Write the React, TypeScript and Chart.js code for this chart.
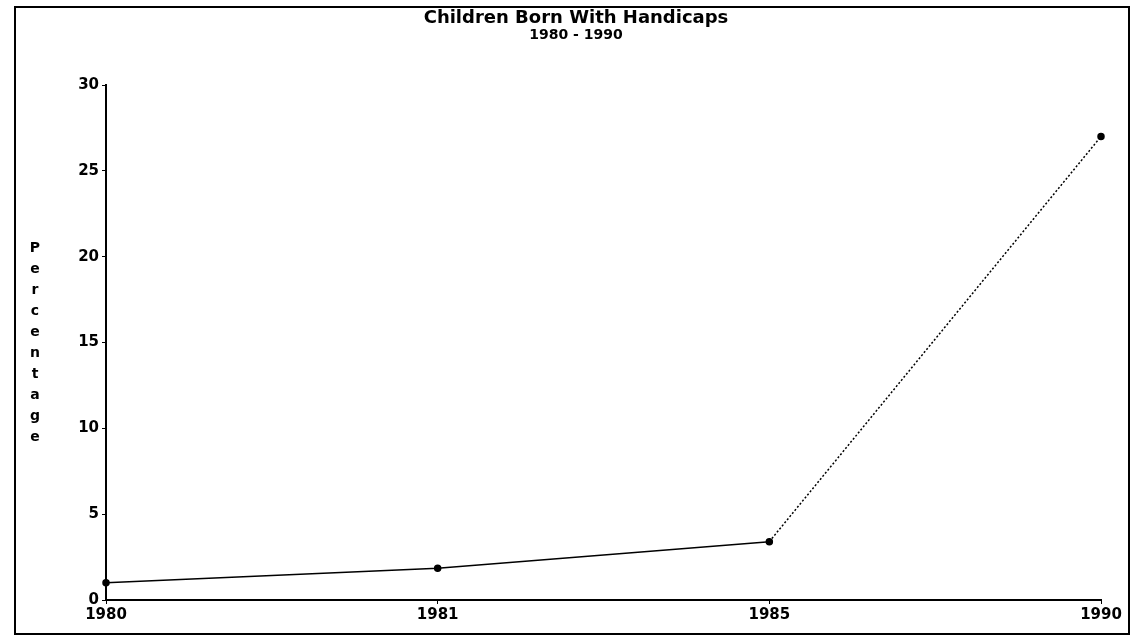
import React, { useEffect, useRef } from "react";
import { Chart, registerables } from "chart.js";

Chart.register(...registerables);

const years = ["1980", "1981", "1985", "1990"];
const percentages = [1.0, 1.85, 3.4, 27.0];
const yTicks = [0, 5, 10, 15, 20, 25, 30];
const titleText = "Children Born With Handicaps";
const subtitleText = "1980 - 1990";
const yTitle = "Percentage";

const titlePlugin = {
  id: "customTitles",
  afterDraw(chart: any) {
    const ctx = chart.ctx;
    ctx.save();
    ctx.fillStyle = "#000";
    ctx.textAlign = "center";
    ctx.textBaseline = "middle";
    ctx.font = "bold 18px 'DejaVu Sans'";
    ctx.fillText(titleText, 576, 18);
    ctx.font = "bold 14px 'DejaVu Sans'";
    ctx.fillText(subtitleText, 576, 35);
    ctx.font = "bold 14px 'DejaVu Sans'";
    const letters = yTitle.split("");
    const mid = (chart.chartArea.top + chart.chartArea.bottom) / 2;
    const step = 21;
    const start = mid - ((letters.length - 1) * step) / 2;
    letters.forEach((ch: string, i: number) => {
      ctx.fillText(ch, 35, start + i * step);
    });
    ctx.restore();
  },
};

export default function App() {
  const ref = useRef<HTMLCanvasElement>(null);
  useEffect(() => {
    if (!ref.current) return;
    const chart = new Chart(ref.current, {
      type: "line",
      data: {
        labels: years,
        datasets: [
          {
            data: percentages,
            borderColor: "#000",
            backgroundColor: "#000",
            borderWidth: 1.5,
            pointRadius: 3,
            pointBackgroundColor: "#000",
            pointBorderColor: "#000",
            tension: 0,
            segment: {
              borderDash: (c: any) => (c.p0DataIndex === 2 ? [2, 2] : undefined),
            },
          },
        ],
      },
      options: {
        animation: false,
        responsive: false,
        maintainAspectRatio: false,
        layout: { padding: { left: 0, right: 30, top: 85, bottom: 0 } },
        plugins: {
          legend: { display: false },
          title: { display: false },
          tooltip: { enabled: false },
        },
        scales: {
          x: {
            type: "category",
            offset: false,
            grid: { display: true, drawOnChartArea: false, tickLength: 4, color: "#000" },
            border: { display: true, color: "#000", width: 2 },
            ticks: { color: "#000", font: { family: "'DejaVu Sans'", size: 15, weight: "bold" }, padding: 2, maxRotation: 0 },
            afterFit: (s: any) => {
              s.height = 37;
            },
          },
          y: {
            min: 0,
            max: 30,
            afterBuildTicks: (s: any) => {
              s.ticks = yTicks.map((v) => ({ value: v }));
            },
            grid: { display: true, drawOnChartArea: false, tickLength: 4, color: "#000" },
            border: { display: true, color: "#000", width: 2 },
            ticks: { color: "#000", font: { family: "'DejaVu Sans'", size: 15, weight: "bold" }, padding: 3 },
            afterFit: (s: any) => {
              s.width = 106;
            },
          },
        },
      },
      plugins: [titlePlugin],
    } as any);
    return () => chart.destroy();
  }, []);
  return (
    <div style={{ position: "absolute", left: 0, top: 0, width: 1131, height: 637, background: "#fff" }}>
      <canvas ref={ref} width={1131} height={637} style={{ position: "absolute", left: 0, top: 0 }} />
      <div
        style={{
          position: "absolute",
          left: 14,
          top: 6,
          width: 1112,
          height: 625,
          borderTop: "2px solid #000",
          borderLeft: "2px solid #000",
          borderBottom: "2px solid #000",
          borderRight: "2px solid #000",
          pointerEvents: "none",
        }}
      />
    </div>
  );
}
